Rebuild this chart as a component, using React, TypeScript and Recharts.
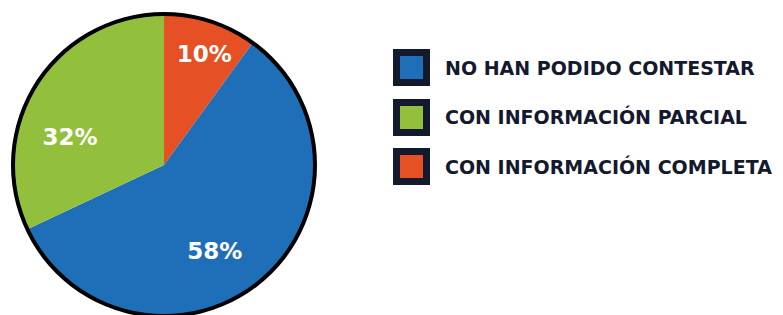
import { PieChart, Pie, Cell } from 'recharts';

const names = ['CON INFORMACIÓN COMPLETA', 'NO HAN PODIDO CONTESTAR', 'CON INFORMACIÓN PARCIAL'];
const values = [10, 58, 32];
const colors = ['#e55124', '#1f6fb8', '#93c03c'];
const legendOrder = [1, 2, 0];

const data = names.map((name, i) => ({ name, value: values[i], color: colors[i] }));
const ring = [{ name: 'ring', value: 1 }];

// small angle/radius nudges so labels sit where the original put them
const labelNudge = [
  { da: -2, r: 118 },
  { da: -9, r: 100 },
  { da: 16, r: 98 },
];

const RADIAN = Math.PI / 180;

function renderLabel(props: any) {
  const { cx, cy, midAngle, index, value } = props;
  const n = labelNudge[index];
  const a = (midAngle + n.da) * RADIAN;
  const x = cx + n.r * Math.cos(a);
  const y = cy - n.r * Math.sin(a);
  return (
    <text
      x={x}
      y={y}
      fill="#ffffff"
      textAnchor="middle"
      dominantBaseline="central"
      fontFamily="'DejaVu Sans', sans-serif"
      fontWeight={700}
      fontSize={23}
    >
      {`${value}%`}
    </text>
  );
}

function ChartLegend() {
  return (
    <div style={{ position: 'absolute', left: 393, top: 43 }}>
      {legendOrder.map((i) => (
        <div key={names[i]} style={{ display: 'flex', alignItems: 'center', height: 49.5 }}>
          <div
            style={{
              width: 23,
              height: 23,
              border: '7px solid #141a2e',
              background: colors[i],
              marginRight: 15,
            }}
          />
          <span
            style={{
              fontFamily: "'DejaVu Sans', sans-serif",
              fontWeight: 700,
              fontSize: 19,
              color: '#141a2e',
              whiteSpace: 'nowrap',
            }}
          >
            {names[i]}
          </span>
        </div>
      ))}
    </div>
  );
}

export default function App() {
  return (
    <div style={{ position: 'fixed', left: 0, top: 0, width: 783, height: 315, background: '#fff' }}>
      <PieChart width={783} height={315} margin={{ top: 0, right: 0, bottom: 0, left: 0 }}>
        <Pie
          data={data}
          dataKey="value"
          cx={164}
          cy={165}
          outerRadius={151}
          startAngle={90}
          endAngle={-270}
          stroke="none"
          label={renderLabel}
          labelLine={false}
          isAnimationActive={false}
        >
          {data.map((d) => (
            <Cell key={d.name} fill={d.color} />
          ))}
        </Pie>
        <Pie
          data={ring}
          dataKey="value"
          cx={164}
          cy={165}
          innerRadius={149}
          outerRadius={153}
          fill="#000"
          stroke="none"
          isAnimationActive={false}
        />
      </PieChart>
      <ChartLegend />
    </div>
  );
}
